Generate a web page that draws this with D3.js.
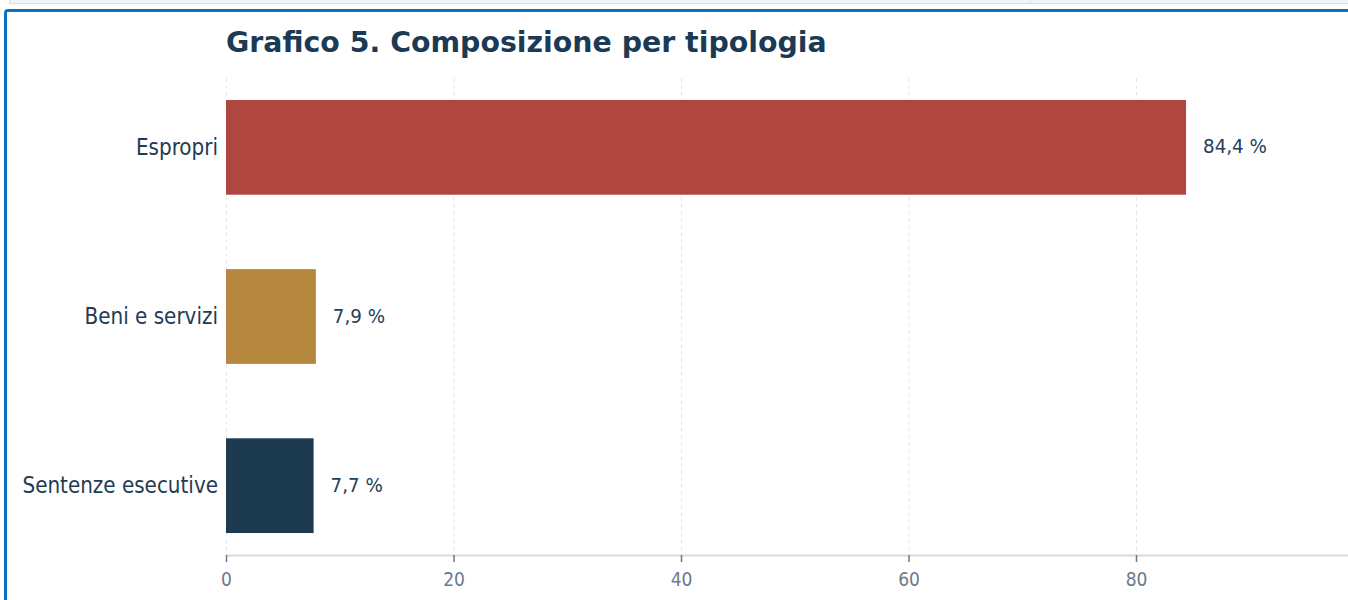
<!DOCTYPE html>
<html>
<head>
<meta charset="utf-8">
<script src="https://cdn.jsdelivr.net/npm/d3@7"></script>
<style>
  html, body { margin: 0; padding: 0; background: #fff; overflow: hidden; }
  body { width: 1348px; height: 600px; position: relative; font-family: "DejaVu Sans Condensed", "DejaVu Sans", sans-serif; }
  #topbar { position: absolute; left: 9px; top: -10px; width: 1400px; height: 14px; background: #f1f4f7; border: 1px solid #d9dfe5; box-sizing: border-box; }
  #topbar .div { position: absolute; left: 1020px; top: 0; width: 1px; height: 100%; background: #d9dfe5; }
  #card { position: absolute; left: 4px; top: 9px; width: 1400px; height: 700px; border: 3px solid #0a72c4; border-radius: 4px; box-sizing: border-box; background: #fff; }
  #chart { position: absolute; left: 0; top: 0; }
</style>
</head>
<body>
<div id="topbar"><div class="div"></div></div>
<div id="card"></div>
<svg id="chart" width="1348" height="600"></svg>
<script>
// data
const categories = ['Espropri', 'Beni e servizi', 'Sentenze esecutive'];
const values = [84.4, 7.9, 7.7];
const colors = ['#b04640', '#b5873f', '#1c3a50'];
const xTicks = [0, 20, 40, 60, 80];

const plotLeft = 226, plotTop = 78, plotBottom = 555;

const svg = d3.select('#chart');

const x = d3.scaleLinear()
  .domain([0, 100])
  .range([plotLeft, plotLeft + 1137.5]);

const y = d3.scaleBand()
  .domain(categories)
  .range([plotTop, plotBottom])
  .paddingInner(0.44)
  .paddingOuter(0.13);

// title
svg.append('text')
  .attr('x', plotLeft)
  .attr('y', 52)
  .attr('fill', '#1b3a55')
  .style('font-family', '"DejaVu Sans", sans-serif')
  .style('font-weight', 'bold')
  .style('font-size', '28.4px')
  .text('Grafico 5. Composizione per tipologia');

// vertical grid
svg.append('g')
  .selectAll('line')
  .data(xTicks)
  .enter()
  .append('line')
    .attr('x1', d => x(d) + 0.5)
    .attr('x2', d => x(d) + 0.5)
    .attr('y1', plotTop)
    .attr('y2', plotBottom)
    .attr('stroke', '#e3e6ea')
    .attr('stroke-dasharray', '4,3');

// bars
svg.append('g')
  .selectAll('rect')
  .data(categories)
  .enter()
  .append('rect')
    .attr('x', x(0))
    .attr('y', d => y(d))
    .attr('width', (d, i) => x(values[i]) - x(0))
    .attr('height', y.bandwidth())
    .attr('fill', (d, i) => colors[i]);

// value labels
svg.append('g')
  .selectAll('text')
  .data(categories)
  .enter()
  .append('text')
    .attr('x', (d, i) => x(values[i]) + 17)
    .attr('y', d => y(d) + y.bandwidth() / 2)
    .attr('dy', '0.3em')
    .attr('fill', '#22405a')
    .style('font-size', '20.3px')
    .text((d, i) => values[i].toFixed(1).replace('.', ',') + ' %');

// category labels
svg.append('g')
  .selectAll('text')
  .data(categories)
  .enter()
  .append('text')
    .attr('x', plotLeft - 8)
    .attr('y', d => y(d) + y.bandwidth() / 2)
    .attr('dy', '0.35em')
    .attr('text-anchor', 'end')
    .attr('fill', '#243a55')
    .style('font-size', '22.2px')
    .text(d => d);

// x axis
const xAxis = svg.append('g')
  .attr('transform', `translate(0,${plotBottom})`)
  .call(d3.axisBottom(x).tickValues(xTicks).tickSize(7).tickPadding(11));
xAxis.select('.domain').attr('stroke', '#d5dbe2').attr('stroke-width', 2).attr('d', `M${plotLeft},0.5H1400`);
xAxis.selectAll('.tick line').attr('stroke', '#6b7a8c').attr('stroke-width', 1.5);
xAxis.selectAll('.tick text')
  .attr('fill', '#6b7a8c')
  .style('font-family', '"DejaVu Sans Condensed", sans-serif')
  .style('font-size', '19px');
</script>
</body>
</html>
